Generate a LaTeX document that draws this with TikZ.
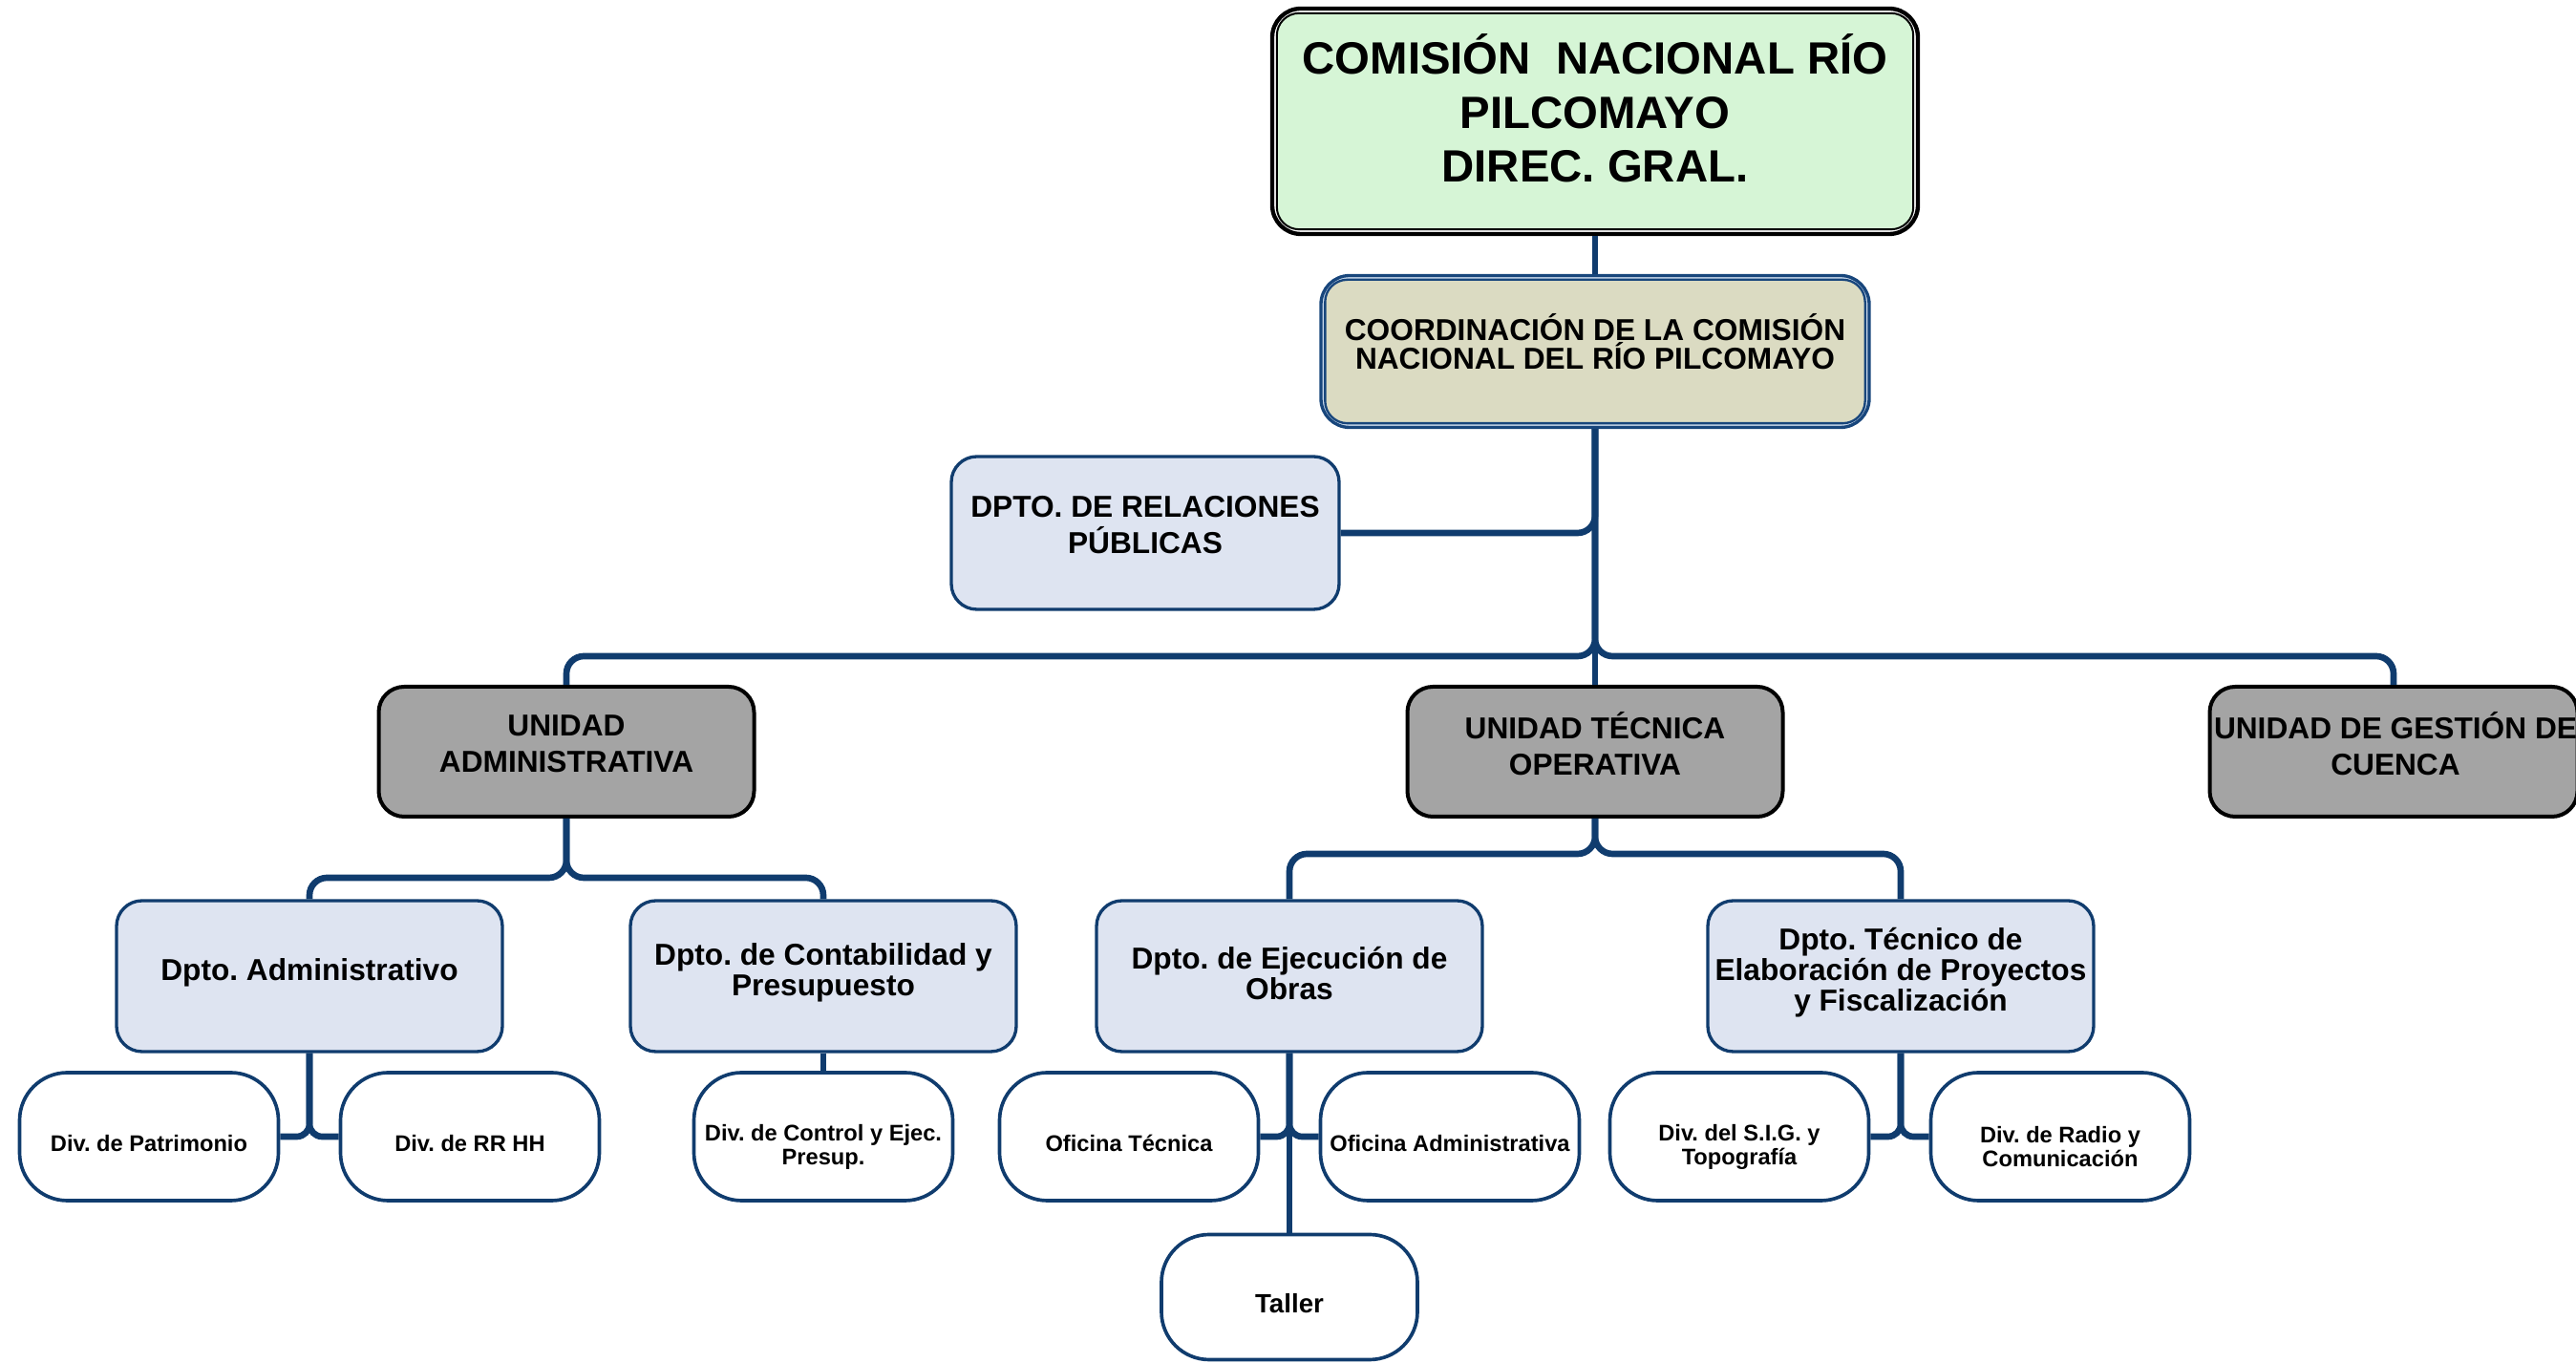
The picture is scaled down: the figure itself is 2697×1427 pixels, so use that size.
\documentclass[tikz,border=0pt]{standalone}
\usepackage{fontspec}
\setmainfont{Liberation Sans}
\frenchspacing
\definecolor{lineblue}{RGB}{16,60,110}
\definecolor{topgreen}{RGB}{214,245,214}
\definecolor{khaki}{RGB}{219,219,194}
\definecolor{coordblue}{RGB}{24,70,124}
\definecolor{palegap}{RGB}{200,216,234}
\definecolor{dptofill}{RGB}{222,228,241}
\definecolor{unigrey}{RGB}{164,164,164}
\begin{document}
\begin{tikzpicture}[x=0.3pt,y=-0.3pt,
  conn/.style={draw=lineblue, line width=2pt, rounded corners=5.5pt},
  divconn/.style={draw=lineblue, line width=2pt, rounded corners=4pt},
  txt/.style={inner sep=0pt, align=center},
  topbox/.style={draw=black, line width=1.3pt, fill=white, rounded corners=9pt,
    minimum width=202.8pt, minimum height=70.8pt, inner sep=0pt},
  toptxt/.style={txt, font=\bfseries\fontsize{14.2}{17}\selectfont},
  coordbox/.style={draw=coordblue, line width=1pt, fill=palegap, rounded corners=9pt,
    minimum width=172.2pt, minimum height=47.7pt, inner sep=0pt},
  coordtxt/.style={txt, font=\bfseries\fontsize{9.5}{8.8}\selectfont},
  rpbox/.style={draw=lineblue, line width=1pt, fill=dptofill, rounded corners=8pt,
    minimum width=121.8pt, minimum height=48pt, inner sep=0pt},
  unibox/.style={draw=black, line width=1.2pt, fill=unigrey, rounded corners=8pt,
    minimum width=117.9pt, minimum height=40.8pt, inner sep=0pt},
  bigtxt/.style={txt, font=\bfseries\fontsize{9.5}{11.4}\selectfont},
  dptobox/.style={draw=lineblue, line width=1pt, fill=dptofill, rounded corners=8pt,
    minimum width=121.2pt, minimum height=47.4pt, inner sep=0pt},
  dptotxt/.style={txt, font=\bfseries\fontsize{9.5}{9.6}\selectfont},
  divbox/.style={draw=lineblue, line width=1.1pt, fill=white, rounded corners=15pt,
    minimum width=81.3pt, minimum height=40.2pt, inner sep=0pt},
  divtxt/.style={txt, font=\bfseries\fontsize{7.1}{7.4}\selectfont},
]
\useasboundingbox (0,0) rectangle (2697,1427);
\fill[white] (0,0) rectangle (2697,1427);

% level 0/1
\node[topbox] (top) at (1670,127) {};
\fill[topgreen, rounded corners=7pt]
  ([shift={(7,7)}]top.north west) rectangle ([shift={(-7,-7)}]top.south east);
\draw[black, line width=0.6pt, rounded corners=7pt]
  ([shift={(7,7)}]top.north west) rectangle ([shift={(-7,-7)}]top.south east);
\node[toptxt] (top-t) at ([yshift=4.1pt]top.center) {COMISIÓN\ \ NACIONAL RÍO\\PILCOMAYO\\DIREC. GRAL.};

\node[coordbox] (coord) at (1670,368) {};
\fill[khaki, rounded corners=7pt]
  ([shift={(6,6)}]coord.north west) rectangle ([shift={(-6,-6)}]coord.south east);
\draw[coordblue, line width=0.7pt, rounded corners=7pt]
  ([shift={(6,6)}]coord.north west) rectangle ([shift={(-6,-6)}]coord.south east);
\node[coordtxt] (coord-t) at ([yshift=3.1pt]coord.center) {COORDINACIÓN DE LA COMISIÓN\\NACIONAL DEL RÍO PILCOMAYO};

\node[rpbox] (rrpp) at (1199,558) {};
\node[bigtxt] (rrpp-t) at ([yshift=2.6pt]rrpp.center) {DPTO. DE RELACIONES\\PÚBLICAS};

% level 2
\node[unibox] (ua) at (593,787) {};
\node[bigtxt] (ua-t) at ([yshift=2.6pt]ua.center) {UNIDAD\\ADMINISTRATIVA};
\node[unibox] (uto) at (1670,787) {};
\node[bigtxt] (uto-t) at ([yshift=2.6pt]uto.center) {UNIDAD TÉCNICA\\OPERATIVA};
\node[unibox, minimum width=115.5pt] (ugc) at (2506,787) {};
\node[bigtxt] (ugc-t) at ([yshift=2.6pt, xshift=0.6pt]ugc.center) {UNIDAD DE GESTIÓN DE\\CUENCA};

% level 3
\node[dptobox] (dadm) at (324,1022) {};
\node[dptotxt] (dadm-t) at ([yshift=1pt]dadm.center) {Dpto. Administrativo};
\node[dptobox] (dcont) at (862,1022) {};
\node[dptotxt] (dcont-t) at ([yshift=1pt]dcont.center) {Dpto. de Contabilidad y\\Presupuesto};
\node[dptobox] (dej) at (1350,1022) {};
\node[dptotxt] (dej-t) at ([yshift=1pt]dej.center) {Dpto. de Ejecución de\\Obras};
\node[dptobox] (dtec) at (1990,1022) {};
\node[dptotxt] (dtec-t) at ([yshift=1pt]dtec.center) {Dpto. Técnico de\\Elaboración de Proyectos\\y Fiscalización};

% level 4
\node[divbox] (pat) at (156,1190) {};
\node[divtxt] (pat-t) at ([yshift=-2pt]pat.center) {Div. de Patrimonio};
\node[divbox] (rrhh) at (492,1190) {};
\node[divtxt] (rrhh-t) at ([yshift=-2pt]rrhh.center) {Div. de RR HH};
\node[divbox] (ctrl) at (862,1190) {};
\node[divtxt] (ctrl-t) at ([yshift=-3.2pt]ctrl.center) {Div. de Control y Ejec.\\Presup.};
\node[divbox] (oft) at (1182,1190) {};
\node[divtxt] (oft-t) at ([yshift=-2pt]oft.center) {Oficina Técnica};
\node[divbox] (ofa) at (1518,1190) {};
\node[divtxt] (ofa-t) at ([yshift=-2pt]ofa.center) {Oficina Administrativa};
\node[divbox] (sig) at (1821,1190) {};
\node[divtxt] (sig-t) at ([yshift=-3.2pt]sig.center) {Div. del S.I.G. y\\Topografía};
\node[divbox] (radio) at (2157,1190) {};
\node[divtxt] (radio-t) at ([yshift=-3.2pt]radio.center) {Div. de Radio y\\Comunicación};
\node[divbox, minimum width=80.4pt, minimum height=39.3pt] (taller) at (1350,1358) {};
\node[txt, font=\bfseries\fontsize{8.3}{9}\selectfont] (taller-t) at ([yshift=-2pt]taller.center) {Taller};

% connectors
\coordinate (hub) at (1670,687);
\draw[conn] (top.south) -- (coord.north);
\draw[conn] (rrpp.east) -| (coord.south);
\draw[conn] (coord.south) -- (uto.north);
\draw[conn] (coord.south) -- (hub) -| (ua.north);
\draw[conn] (coord.south) -- (hub) -| (ugc.north);

\draw[conn] (ua.south) -- ++(0,62) -| (dadm.north);
\draw[conn] (ua.south) -- ++(0,62) -| (dcont.north);
\draw[conn] (uto.south) -- ++(0,37) -| (dej.north);
\draw[conn] (uto.south) -- ++(0,37) -| (dtec.north);

\draw[divconn] (dadm.south) |- (pat.east);
\draw[divconn] (dadm.south) |- (rrhh.west);
\draw[divconn] (dcont.south) -- (ctrl.north);
\draw[divconn] (dej.south) |- (oft.east);
\draw[divconn] (dej.south) |- (ofa.west);
\draw[divconn] (dej.south) -- (taller.north);
\draw[divconn] (dtec.south) |- (sig.east);
\draw[divconn] (dtec.south) |- (radio.west);
\end{tikzpicture}
\end{document}
